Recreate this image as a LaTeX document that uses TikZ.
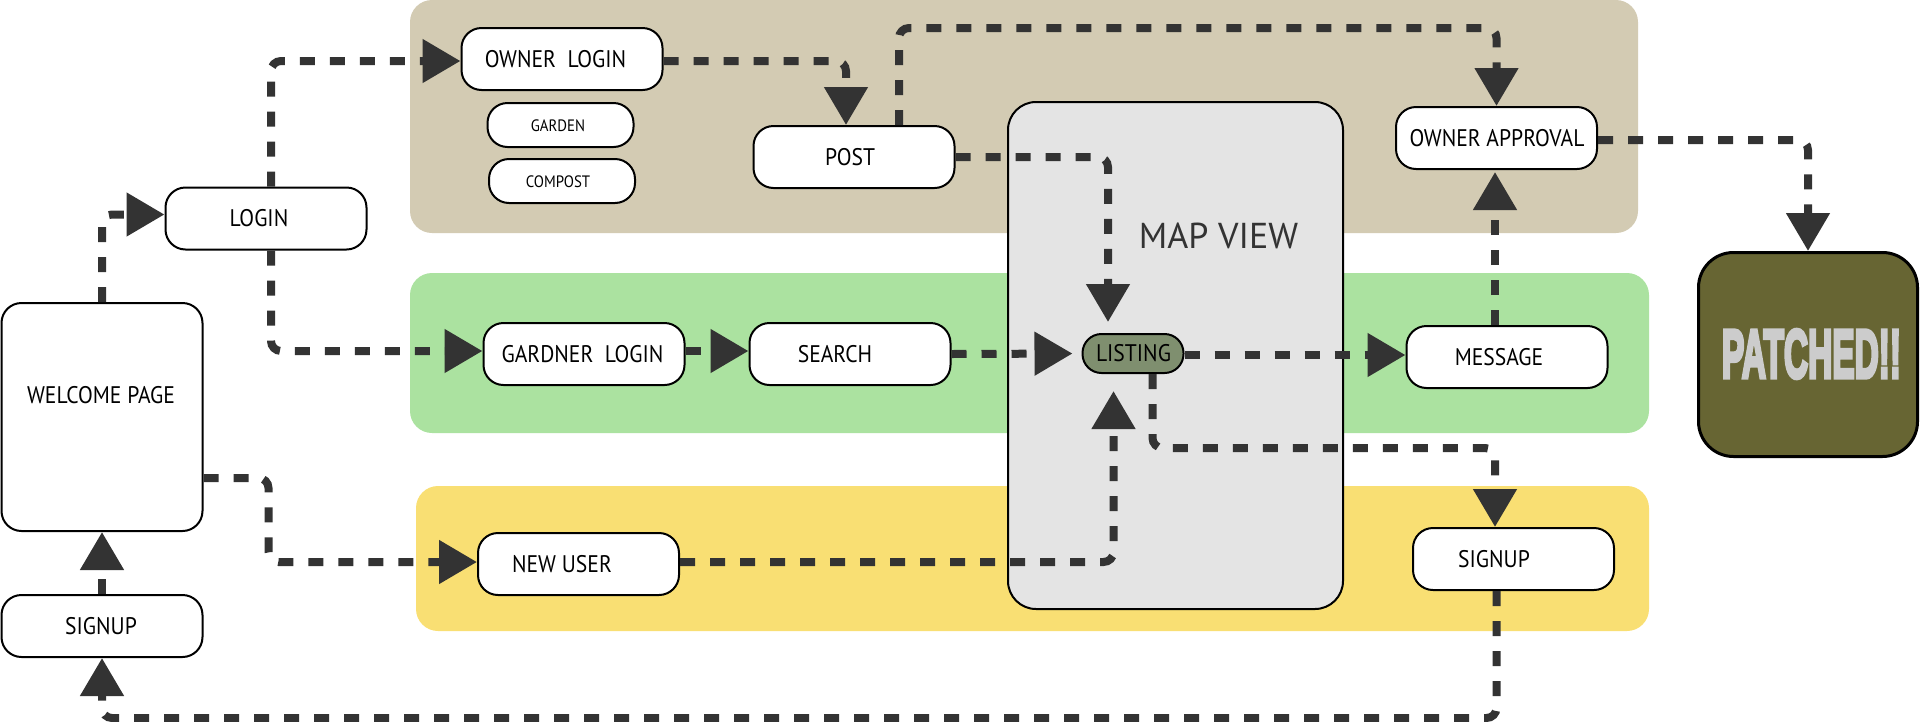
\documentclass[tikz,border=0pt]{standalone}
\usepackage{fontspec}
\usetikzlibrary{arrows.meta}
\newfontfamily\lblfam{PT Sans}[FakeStretch=0.9]
\newfontfamily\mapfam{PT Sans}
\newfontfamily\patfam{Liberation Sans Bold}[FakeBold=6]
\definecolor{tanband}{RGB}{211,203,179}
\definecolor{greenband}{RGB}{171,226,160}
\definecolor{yellowband}{RGB}{249,223,115}
\definecolor{mapgray}{RGB}{228,228,228}
\definecolor{listgreen}{RGB}{127,143,111}
\definecolor{olive}{RGB}{103,101,51}
\definecolor{linec}{RGB}{51,51,51}
\definecolor{pattext}{RGB}{204,204,204}
\tikzset{
  box/.style={draw=black, line width=2pt, fill=white, rounded corners=20pt,
    minimum width=201pt, minimum height=62pt, inner sep=0pt},
  smallbox/.style={box, minimum width=146pt, minimum height=44pt},
  lbl/.style={font=\lblfam\fontsize{24}{28}\selectfont, text=black, inner sep=0pt},
  smalllbl/.style={font=\lblfam\fontsize{16.5}{20}\selectfont, text=black, inner sep=0pt},
  conn/.style={draw=linec, line width=8pt, dash pattern=on 15pt off 15pt,
    rounded corners=10pt, -{Triangle[length=38pt,width=42pt]}},
}
\begin{document}
\begin{tikzpicture}[x=1pt,y=-1pt]
\useasboundingbox (0,0) rectangle (1920,721);
% bands
\fill[tanband, rounded corners=22pt] (410,0) rectangle (1638,233);
\fill[greenband, rounded corners=22pt] (410,273) rectangle (1649,433);
\fill[yellowband, rounded corners=22pt] (416,486) rectangle (1649,631);
% map view
\node[draw=black, line width=2pt, fill=mapgray, rounded corners=28pt,
  minimum width=335pt, minimum height=507pt, inner sep=0pt] (mapview) at (1175.5,355.5) {};
\node[font=\mapfam\fontsize{36}{40}\selectfont, text=linec, inner sep=0pt] (maptxt) at (1218.5,235.5) {MAP VIEW};
% nodes
\node[box, minimum width=201pt, minimum height=228pt] (welcome) at (102,417) {};
\node[lbl] (welcometxt) at (101,395) {WELCOME PAGE};
\node[box] (signupl) at (102,626) {};
\node[lbl] (signupltxt) at (101,626) {SIGNUP};
\node[box] (login) at (266,218.5) {};
\node[lbl] (logintxt) at (259,218.5) {LOGIN};
\node[box] (ownerlogin) at (562,59) {};
\node[lbl] (ownerlogintxt) at (555.5,59) {OWNER\ \ LOGIN};
\node[smallbox] (garden) at (560.5,125) {};
\node[smalllbl] (gardentxt) at (558,126) {GARDEN};
\node[smallbox] (compost) at (562,181) {};
\node[smalllbl] (composttxt) at (558,182) {COMPOST};
\node[box] (post) at (854,157) {};
\node[lbl] (posttxt) at (850,157) {POST};
\node[box] (gardner) at (584,354) {};
\node[lbl] (gardnertxt) at (582.5,354) {GARDNER\ \ LOGIN};
\node[box] (search) at (850,354) {};
\node[lbl] (searchtxt) at (835,354) {SEARCH};
\node[draw=black, line width=2pt, fill=listgreen, rounded corners=19pt,
  minimum width=101pt, minimum height=39pt, inner sep=0pt] (listing) at (1133,353.5) {};
\node[lbl] (listingtxt) at (1133.5,353.5) {LISTING};
\node[box] (message) at (1507,357) {};
\node[lbl] (messagetxt) at (1499,357) {MESSAGE};
\node[box] (oa) at (1496.5,138) {};
\node[lbl] (oatxt) at (1497,138) {OWNER APPROVAL};
\node[box] (newuser) at (578.5,564) {};
\node[lbl] (newusertxt) at (562,564) {NEW USER};
\node[box] (signupr) at (1513.5,559) {};
\node[lbl] (signuprtxt) at (1494,559) {SIGNUP};
\node[draw=black, line width=3pt, fill=olive, rounded corners=35pt,
  minimum width=219pt, minimum height=204pt, inner sep=0pt] (patched) at (1808,354.5) {};
\node[text=pattext, inner sep=0pt] (patchedtxt) at (1811.5,354)
  {\resizebox{179pt}{48pt}{\patfam\fontsize{67}{70}\selectfont PATCHED!!}};
% connectors
\draw[conn] (welcome.north) |- ([yshift=4pt]login.west);
\draw[conn] ([xshift=5pt]login.north) |- ([yshift=-2pt]ownerlogin.west);
\draw[conn] ([xshift=5pt]login.south) |- ([yshift=3pt]gardner.west);
\draw[conn] ([yshift=-2pt]ownerlogin.east) -| ([xshift=-8pt]post.north);
\draw[conn] ([xshift=45pt]post.north) |- ([yshift=78pt]oa.north) -- (oa.north);
\draw[conn, shorten >=11pt] (post.east) -| ([xshift=-25pt]listing.north);
\draw[conn] ([yshift=3pt]gardner.east) -- ([yshift=3pt]search.west);
\draw[conn, shorten >=9pt] (search.east) -- (listing.west);
\draw[conn] ([yshift=-1.5pt]listing.east) -- ([yshift=2pt]message.west);
\draw[conn, shorten >=2pt] ([xshift=-12pt]message.north) -- ([xshift=-1.5pt]oa.south);
\draw[conn] ([yshift=-2pt]oa.east) -| (patched.north);
\draw[conn] ([yshift=-61pt]welcome.east) -- ++(65,0) |- ([yshift=2pt]newuser.west);
\draw[conn, shorten >=17pt] ([yshift=2pt]newuser.east) -| ([xshift=-19.5pt]listing.south);
\draw[conn] ([xshift=19.5pt]listing.south) -- ++(0,74) -| ([xshift=-18.5pt]signupr.north);
\draw[conn] ([xshift=-17pt]signupr.south) -- ++(0,127) -| (signupl.south);
\draw[conn] (signupl.north) -- (welcome.south);
\end{tikzpicture}
\end{document}
